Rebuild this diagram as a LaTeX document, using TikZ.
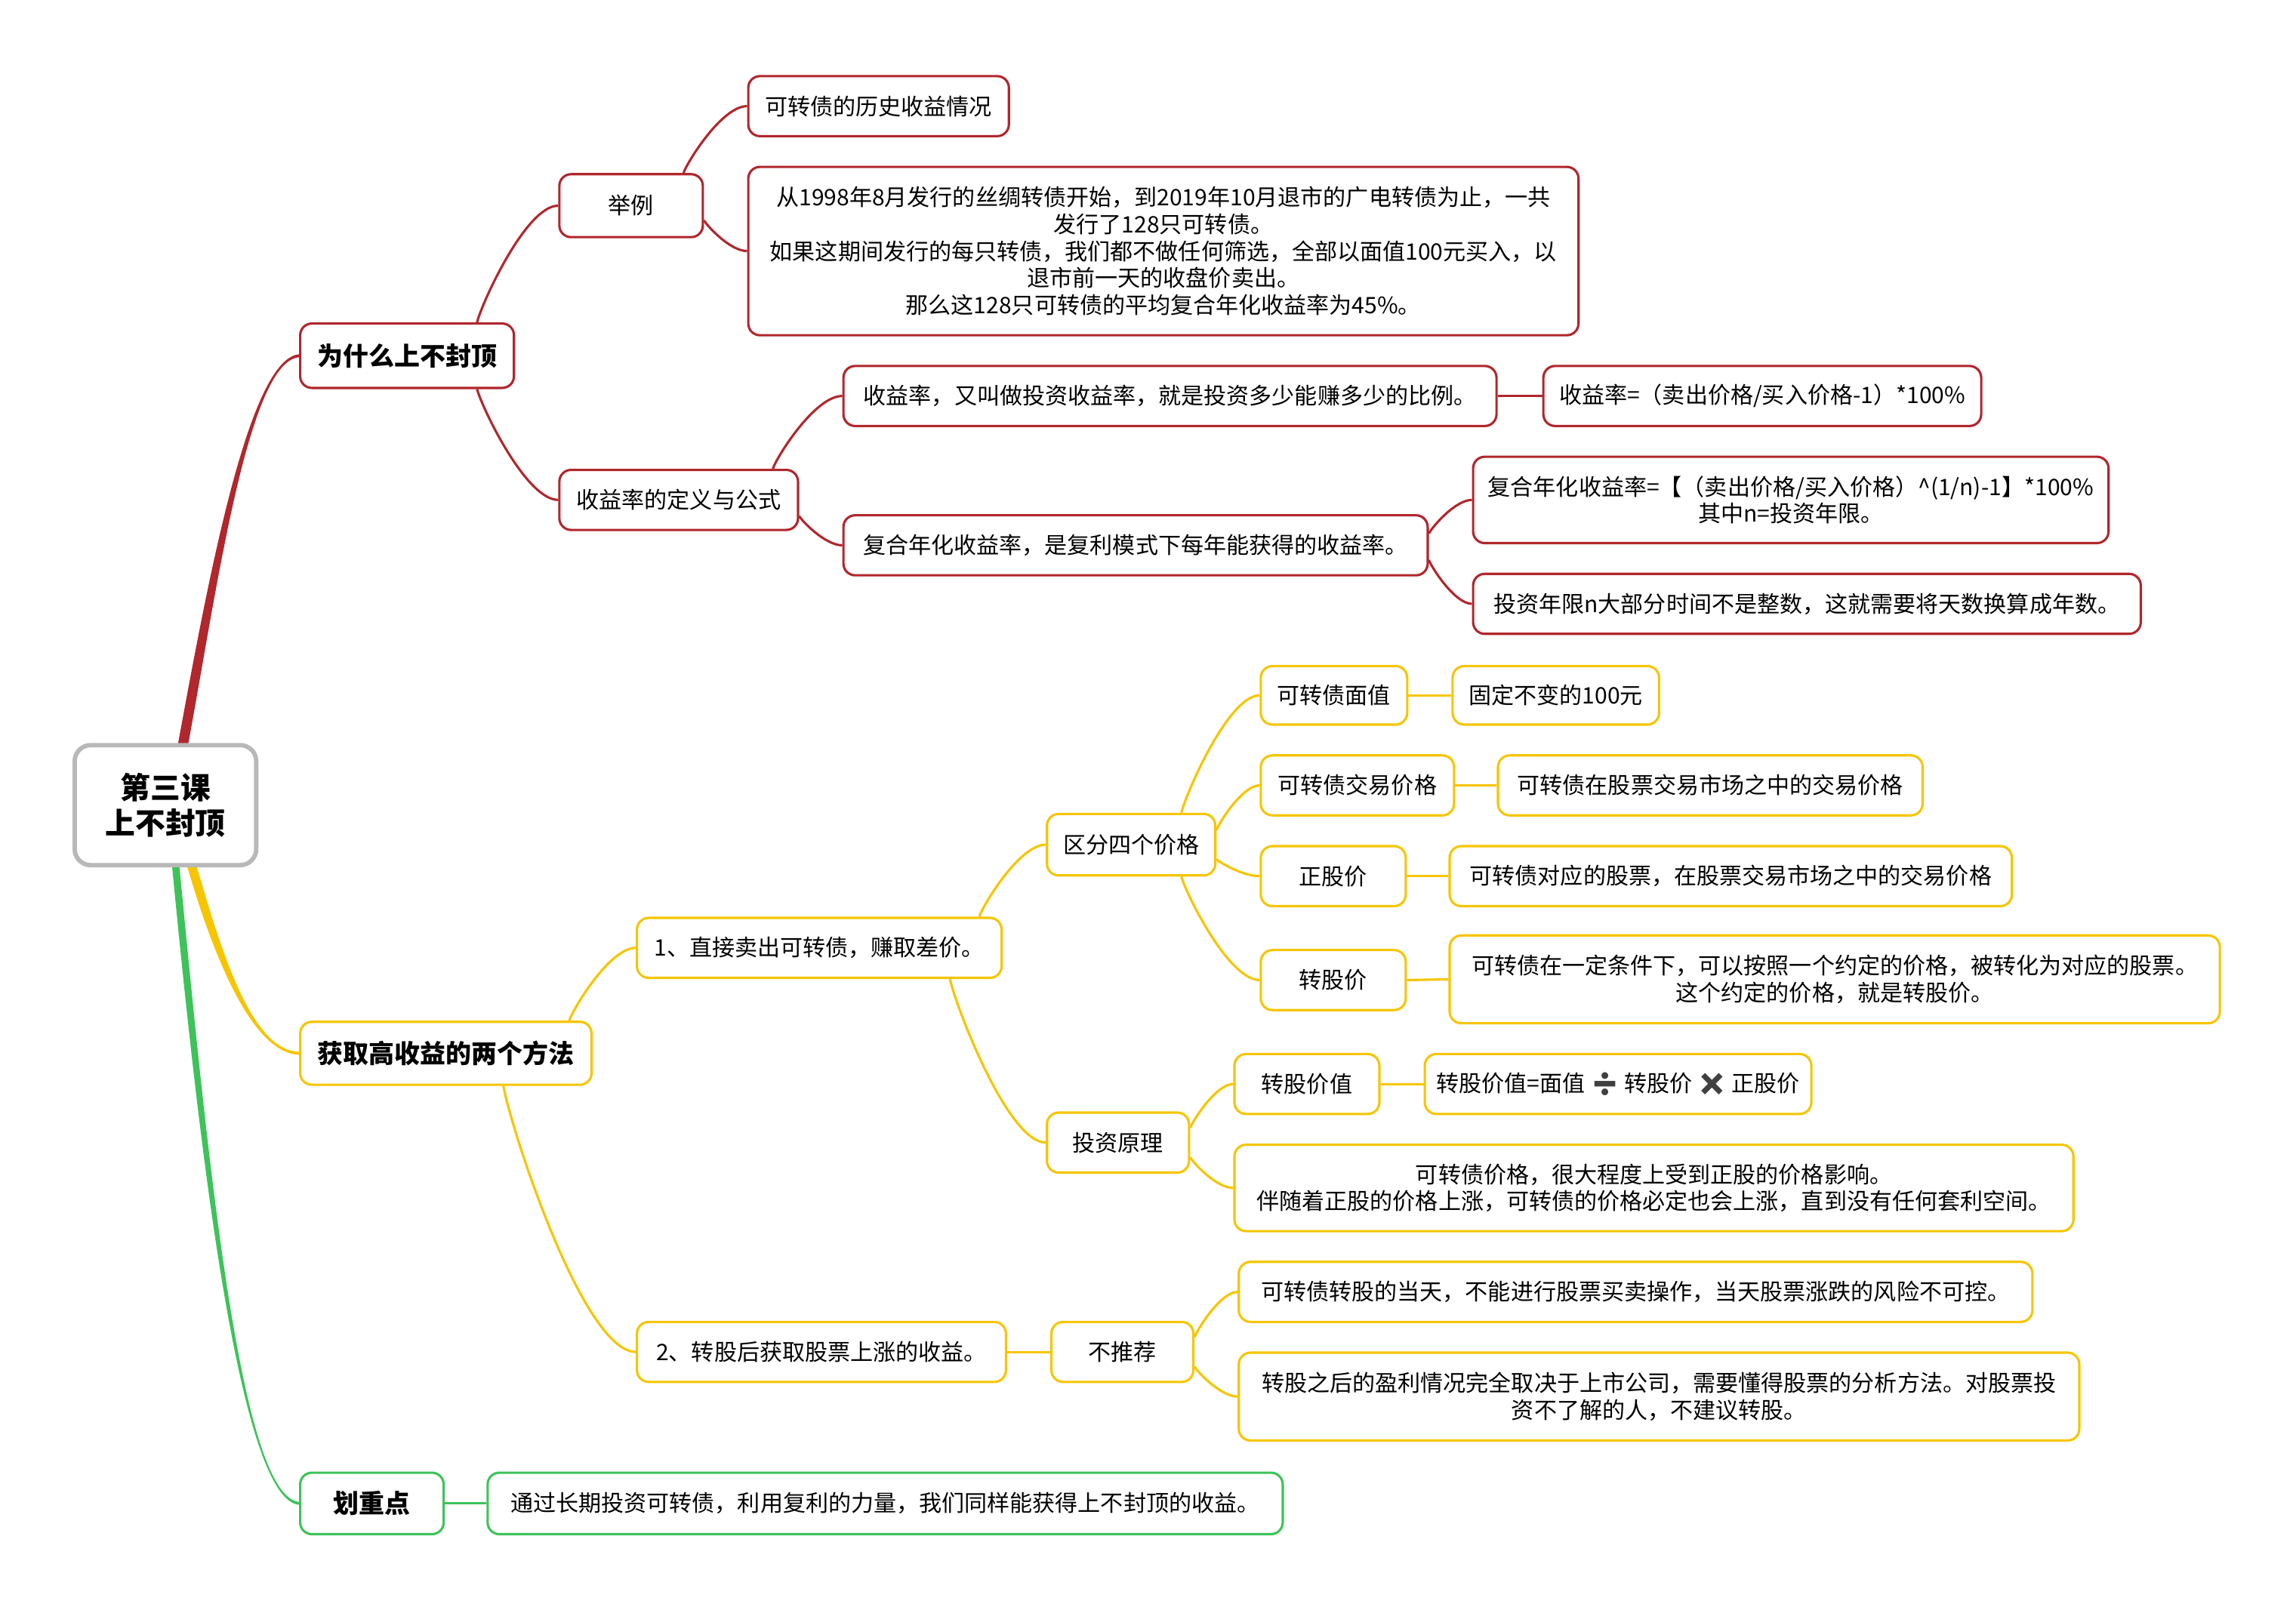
\documentclass[tikz,border=0pt]{standalone}
\usepackage{fontspec}
\setmainfont{Noto Sans CJK SC}
\newfontfamily\emo{Noto Emoji}
\usetikzlibrary{calc,backgrounds}
\definecolor{cred}{HTML}{B0272D}
\definecolor{cyel}{HTML}{F6C500}
\definecolor{cgrn}{HTML}{3DC35A}
\definecolor{cgray}{HTML}{B8B8B8}
\tikzset{
  box/.style={draw, fill=white, rounded corners=8pt, line width=1.6pt, inner sep=0pt,
    align=center, text=black, font=\fontsize{15.5}{18.5}\selectfont},
  rbox/.style={box, draw=cred},
  ybox/.style={box, draw=cyel},
  gbox/.style={box, draw=cgrn},
  rhead/.style={rbox, font=\fontsize{17.5}{21}\selectfont\bfseries},
  yhead/.style={ybox, font=\fontsize{17.5}{21}\selectfont\bfseries},
  ghead/.style={gbox, font=\fontsize{17.5}{21}\selectfont\bfseries},
  rootbox/.style={box, draw=cgray, line width=3pt, rounded corners=11pt,
    font=\fontsize{20.5}{24}\selectfont\bfseries},
  rl/.style={draw=cred, line width=1.6pt},
  yl/.style={draw=cyel, line width=1.6pt},
  gl/.style={draw=cgrn, line width=1.6pt},
}
\newcommand\bx[7]{\node[#1, minimum width={(#5-#3)*1pt}, minimum height={(#6-#4)*1pt}] (#2) at ({(#3+#5)/2},{(#4+#6)/2}) {#7};}
\newcommand\lnk[3]{\draw[#1] let \p1=(#2), \p2=(#3) in (\p1) .. controls ({\x1+0.05*(\x2-\x1)},{\y1+0.15*(\y2-\y1)}) and ({\x2-0.4*(\x2-\x1)},\y2) .. (\p2);}
\begin{document}
\begin{tikzpicture}[x=1pt,y=-1pt]
\useasboundingbox (0,0) rectangle (1568,1099.8);
% root
\bx{rootbox}{root}{51}{509}{175}{591}{第三课\\上不封顶}
% red branch
\bx{rhead}{h1}{205}{221}{351}{265}{为什么上不封顶}
\bx{rbox}{jl}{382}{119}{480}{162}{举例}
\bx{rbox}{ls}{511}{52}{689}{93}{可转债的历史收益情况}
\bx{rbox}{lt}{511}{114}{1078}{229}{从1998年8月发行的丝绸转债开始，到2019年10月退市的广电转债为止，一共\\发行了128只可转债。\\如果这期间发行的每只转债，我们都不做任何筛选，全部以面值100元买入，以\\退市前一天的收盘价卖出。\\那么这128只可转债的平均复合年化收益率为45\%。}
\bx{rbox}{dy}{382}{321}{545}{362}{收益率的定义与公式}
\bx{rbox}{sy}{576}{250}{1022}{291}{收益率，又叫做投资收益率，就是投资多少能赚多少的比例。}
\bx{rbox}{sf}{1054}{250}{1353}{291}{收益率=（卖出价格/买入价格-1）*100\%}
\bx{rbox}{fh}{576}{352}{975}{393}{复合年化收益率，是复利模式下每年能获得的收益率。}
\bx{rbox}{ff}{1006}{312}{1440}{371}{复合年化收益率=【（卖出价格/买入价格）\textasciicircum(1/n)-1】*100\%\\其中n=投资年限。}
\bx{rbox}{tn}{1006}{392}{1462}{433}{投资年限n大部分时间不是整数，这就需要将天数换算成年数。}
% yellow branch
\bx{yhead}{h2}{205}{698}{404}{741}{获取高收益的两个方法}
\bx{ybox}{m1}{435}{627}{684}{668}{1、直接卖出可转债，赚取差价。}
\bx{ybox}{q4}{715}{556}{830}{598}{区分四个价格}
\bx{ybox}{mz}{861}{455}{961}{495}{可转债面值}
\bx{ybox}{mzd}{992}{455}{1133}{495}{固定不变的100元}
\bx{ybox}{jy}{861}{516}{993}{557}{可转债交易价格}
\bx{ybox}{jyd}{1023}{516}{1313}{557}{可转债在股票交易市场之中的交易价格}
\bx{ybox}{zg}{861}{578}{960}{619}{正股价}
\bx{ybox}{zgd}{990}{578}{1374}{619}{可转债对应的股票，在股票交易市场之中的交易价格}
\bx{ybox}{zj}{861}{649}{960}{690}{转股价}
\bx{ybox}{zjd}{990}{639}{1516}{699}{可转债在一定条件下，可以按照一个约定的价格，被转化为对应的股票。\\这个约定的价格，就是转股价。}
\bx{ybox}{tz}{715}{760}{812}{801}{投资原理}
\bx{ybox}{zv}{843}{720}{942}{761}{转股价值}
\bx{ybox}{zvd}{973}{720}{1237}{761}{转股价值=面值 {\emo\color{black!75}➗} 转股价 {\emo\color{black!75}✖} 正股价}
\bx{ybox}{yx}{843}{782}{1416}{841}{可转债价格，很大程度上受到正股的价格影响。\\伴随着正股的价格上涨，可转债的价格必定也会上涨，直到没有任何套利空间。}
\bx{ybox}{m2}{435}{903}{687}{944}{2、转股后获取股票上涨的收益。}
\bx{ybox}{bt}{718}{903}{815}{944}{不推荐}
\bx{ybox}{b1}{846}{862}{1388}{903}{可转债转股的当天，不能进行股票买卖操作，当天股票涨跌的风险不可控。}
\bx{ybox}{b2}{846}{924}{1420}{984}{转股之后的盈利情况完全取决于上市公司，需要懂得股票的分析方法。对股票投\\资不了解的人，不建议转股。}
% green branch
\bx{ghead}{h3}{205}{1006}{303}{1048}{划重点}
\bx{gbox}{hd}{333}{1006}{876}{1048}{通过长期投资可转债，利用复利的力量，我们同样能获得上不封顶的收益。}

\begin{pgfonlayer}{background}
\fill[white] (0,0) rectangle (1568,1099.8);
% main tapered branches
\fill[cred] ($(root.north)+(8.5,1)$) .. controls (141.5,400) and (170,242) .. ($(h1.west)+(1,-1)$)
  -- ($(h1.west)+(1,1)$) .. controls (170,244) and (148.5,400) .. ($(root.north)+(15.5,1)$) -- cycle;
\fill[cyel] ($(root.south)+(14.75,-1)$) .. controls (144.75,650) and (172,721) .. ($(h2.west)+(1,1)$)
  -- ($(h2.west)+(1,-1)$) .. controls (172,719) and (151.25,650) .. ($(root.south)+(21.25,-1)$) -- cycle;
\fill[cgrn] ($(root.south)+(4.5,-1)$) .. controls (137.5,800) and (165,1028) .. ($(h3.west)+(1,1)$)
  -- ($(h3.west)+(1,-1)$) .. controls (165,1026) and (142.5,800) .. ($(root.south)+(9.5,-1)$) -- cycle;
% red links
\lnk{rl}{$(h1.north east)+(-26,0)$}{jl.west}
\lnk{rl}{$(h1.south east)+(-26,0)$}{dy.west}
\lnk{rl}{$(jl.north east)+(-14,0)$}{ls.west}
\lnk{rl}{$(jl.east)+(0,10)$}{lt.west}
\lnk{rl}{$(dy.north east)+(-18,0)$}{sy.west}
\lnk{rl}{$(dy.east)+(0,11)$}{fh.west}
\draw[rl] (sy.east) -- (sf.west);
\lnk{rl}{$(fh.east)+(0,-8)$}{ff.west}
\lnk{rl}{$(fh.east)+(0,10)$}{tn.west}
% yellow links
\lnk{yl}{$(h2.north east)+(-16,0)$}{m1.west}
\lnk{yl}{$(h2.south east)+(-61,0)$}{m2.west}
\lnk{yl}{$(m1.north east)+(-16,0)$}{q4.west}
\lnk{yl}{$(m1.south east)+(-36,0)$}{tz.west}
\lnk{yl}{$(q4.north east)+(-24,0)$}{mz.west}
\lnk{yl}{$(q4.east)+(0,-10)$}{jy.west}
\lnk{yl}{$(q4.east)+(0,10)$}{zg.west}
\lnk{yl}{$(q4.south east)+(-24,0)$}{zj.west}
\lnk{yl}{$(tz.east)+(0,-10)$}{zv.west}
\lnk{yl}{$(tz.east)+(0,10)$}{yx.west}
\lnk{yl}{$(bt.east)+(0,-10)$}{b1.west}
\lnk{yl}{$(bt.east)+(0,10)$}{b2.west}
\draw[yl] (mz.east) -- (mzd.west);
\draw[yl] (jy.east) -- (jyd.west);
\draw[yl] (zg.east) -- (zgd.west);
\draw[yl] (zj.east) -- (zjd.west);
\draw[yl] (zv.east) -- (zvd.west);
\draw[yl] (m2.east) -- (bt.west);
% green link
\draw[gl] (h3.east) -- (hd.west);
\end{pgfonlayer}
\end{tikzpicture}
\end{document}
